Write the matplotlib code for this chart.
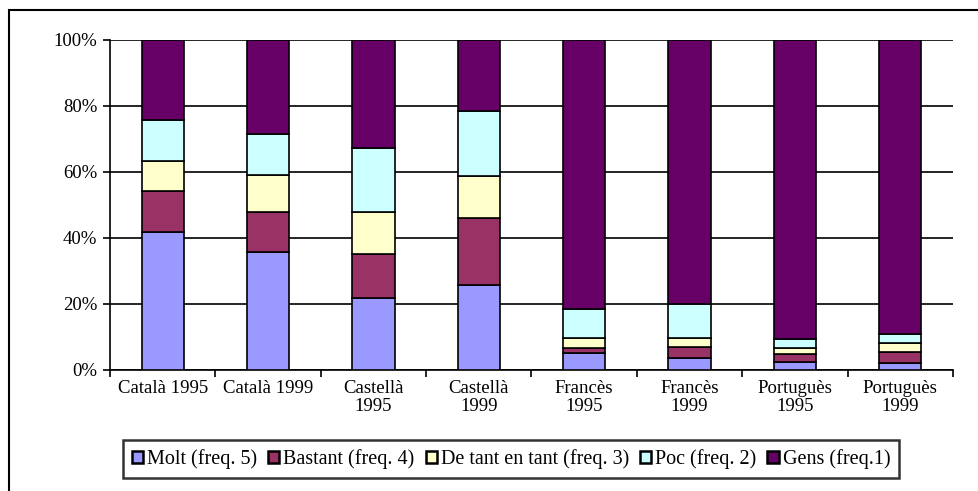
import numpy as np
import matplotlib
matplotlib.use("Agg")
from matplotlib import pyplot as plt
from matplotlib.patches import Rectangle

plt.rcParams['font.family'] = ['Liberation Serif', 'DejaVu Serif']
plt.rcParams['font.size'] = 13.5

categories = ['Català 1995', 'Català 1999', 'Castellà\n1995', 'Castellà\n1999',
              'Francès\n1995', 'Francès\n1999', 'Portuguès\n1995', 'Portuguès\n1999']

# cumulative tops (percent)
molt_top = [41.8, 35.8, 21.7, 25.7, 5.2, 3.6, 2.4, 2.2]
bastant_top = [54.2, 47.9, 35.3, 46.2, 6.8, 7.1, 4.8, 5.6]
detant_top = [63.2, 59.2, 47.9, 58.7, 9.6, 9.6, 6.8, 8.3]
poc_top = [75.8, 71.6, 67.3, 78.4, 18.5, 20.0, 9.5, 10.8]
gens_top = [100] * 8

series = ['Molt (freq. 5)', 'Bastant (freq. 4)', 'De tant en tant (freq. 3)',
          'Poc (freq. 2)', 'Gens (freq.1)']
colors = ['#9999FF', '#993366', '#FFFFCC', '#CCFFFF', '#660066']

tops = np.array([molt_top, bastant_top, detant_top, poc_top, gens_top])
bottoms = np.vstack([np.zeros(8), tops[:-1]])
values = tops - bottoms

fig = plt.figure(figsize=(9.79, 4.91), dpi=100)
ax = fig.add_axes([110 / 979, 1 - 370 / 491, 843 / 979, 330 / 491])

# chart border (only left and top visible in the reference)
fig.patches.append(Rectangle((9 / 979, -0.1), 1.2, 1 - 10 / 491 + 0.1,
                             transform=fig.transFigure, fill=False,
                             edgecolor='black', linewidth=1.5))

x = np.arange(len(categories))
for i, name in enumerate(series):
    ax.bar(x, values[i], bottom=bottoms[i], width=0.4, color=colors[i],
           edgecolor='black', linewidth=1.2, label=name, zorder=3)

ax.set_xlim(-0.5, 7.5)
ax.set_ylim(0, 100)
ax.set_yticks(np.arange(0, 101, 20))
ax.set_yticklabels([f'{v}%' for v in range(0, 101, 20)])
ax.yaxis.grid(True, color='black', linewidth=1.2)
ax.set_axisbelow(True)

ax.set_xticks(np.arange(-0.5, 8, 1))
ax.set_xticklabels([])
ax.set_xticks(x, minor=True)
ax.set_xticklabels(categories, minor=True, linespacing=1.1)
ax.tick_params(axis='x', which='minor', length=0, pad=7)
ax.tick_params(axis='x', which='major', length=5, width=1.2)
ax.tick_params(axis='y', length=5, width=1.2, pad=4)

for s in ['top', 'right']:
    ax.spines[s].set_visible(False)
for s in ['left', 'bottom']:
    ax.spines[s].set_linewidth(1.2)

leg = fig.legend(loc='center', bbox_to_anchor=(511 / 979, 1 - 459 / 491), ncol=5,
                 frameon=True, fancybox=False, edgecolor='black',
                 prop={'family': ['Liberation Serif'], 'size': 14.5},
                 handlelength=0.55, handleheight=0.55, handletextpad=0.2,
                 columnspacing=0.55, borderpad=0.45, borderaxespad=0)
leg.get_frame().set_linewidth(1.8)
for h in leg.legend_handles:
    h.set_linewidth(1.8)

fig.savefig('out.png', dpi=100)
